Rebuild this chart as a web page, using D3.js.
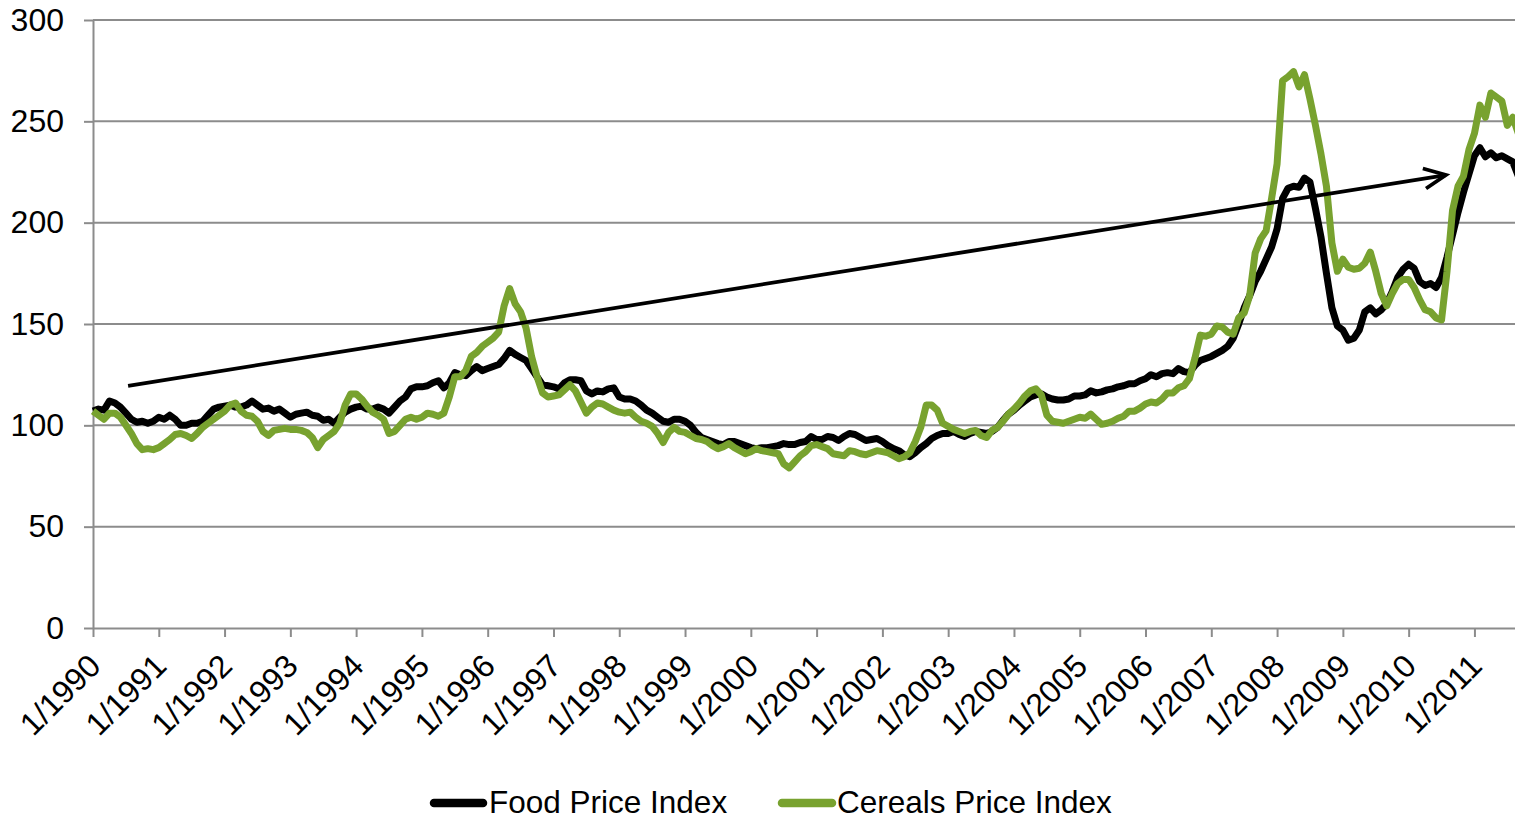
<!DOCTYPE html>
<html>
<head>
<meta charset="utf-8">
<script src="https://cdn.jsdelivr.net/npm/d3@7"></script>
<style>
html,body{margin:0;padding:0;background:#fff;}
svg{display:block;font-family:"Liberation Sans",Arial,Helvetica,sans-serif;}
</style>
</head>
<body>
<svg id="chart" width="1515" height="820"></svg>
<script>
// ---- data (monthly, Jan 1990 .. Sep 2011) ----
const yearLabels = ["1/1990","1/1991","1/1992","1/1993","1/1994","1/1995","1/1996","1/1997","1/1998","1/1999","1/2000","1/2001","1/2002","1/2003","1/2004","1/2005","1/2006","1/2007","1/2008","1/2009","1/2010","1/2011"];
const yTicks = [0,50,100,150,200,250,300];
const seriesNames = ["Food Price Index","Cereals Price Index"];

const foodIndex = [
107,108,107.5,112,111,109,106,103,101.5,102,101,102,
104,103,105,103,100,100,101,101,102,105,108,109,
109.5,110,109,109,110,112,110,108,108.5,107,108,106,
104,105.5,106,106.5,105,104.5,102.5,103,101,104,106.5,108,
109,109.5,108,108,109,108,106,109,112,114,118,119,
119,119.5,121,122,118.5,121,126,125,124.5,127,129,127,
128,129,130,133,137,135,133.5,132,128,124,120,119.5,
119,118,121,122.5,122.5,122,117,115.5,117,116.5,118,118.5,
114,113,113,112,110,107.5,106,104,102,101.5,103,103,
102,100,96.5,94,93,92,91,90.5,92,92,91,90,
89,88.5,89,89,89.5,90,91,90.5,90.5,91.5,92,94.5,
93,93,94.5,94,92.5,94.5,96,95.5,94,92.5,93,93.5,
92,90,88.5,87.5,85.5,84.5,86.5,89,91,93.5,95,96,
96,97,95.5,94.5,96,97,96.5,96,97,99,102.5,105.5,
107.5,110,112,114,115,115.5,114,113,112.5,112.5,113,114.5,
114.5,115,117,116,116.5,117.5,118,119,119.5,120.5,120.5,122,
123,125,124,125.5,126,125.5,128,126.5,126,129.5,132,133,
134,135.5,137,139,143,150,158,164,171,176,182,188,
197,212,217,218,217.5,222,220,207,193,175,158,149,
147,142,143,147,156,158,155,157,160,166,173,177,
179.5,177.5,171,169,170,168,173,183,194,205,215,224,
233,237,232.5,234.5,232,233,231.5,230,223
];

const cerealsIndex = [
107,105,103,106,106,104,100,96,91,88,88.5,88,
89,91,93,95.5,96,95,93.5,96,99,101,103,105,
107,110,111,107,105,104.5,102,97,95,97.5,98,98.5,
98,98,97.5,96.5,94,89,93,95,97,101,110,115.5,
115.5,113,109.5,106.5,105,103,96,97,100,103,104,103,
104,106,105.5,104.5,106,114,124,124,127,134,136,139,
141,143,146,159,167.5,160,156,148,134,124,116,114,
114.5,115,117.5,120,117,111.5,106,109,111,110.5,109,107.5,
106.5,106,106.5,104,102,101,99.5,96,91.5,96.5,99,97,
96.5,95,93.5,93,92,90,88.5,89.5,91,89,87.5,86,
87,88.5,87.5,87,86.5,86,81,79,82,85,87,90,
90.5,89.5,88.5,86,85.5,85,87.5,87,86,85.5,86.5,87.5,
87,86.5,85,83.5,84.5,86.5,92,99,110,110,107.5,101,
99.5,98,97,96,97,97.5,95,94,97.5,99,102,105.5,
108,111,114.5,117,118,115,105,102,101.5,101,102,103,
104,103.5,105.5,103,100.5,101,102,103.5,104.5,107,107,108.5,
110.5,111.5,111,113,116,116,118.5,119.5,123,133,144.5,144,
145,149,148.5,146,145,153,155.5,164,185,192,196,212,
229,270,272,274.5,267,273,261,248,234,218,190,176,
182,178,177,177.5,180,185.5,176,165,159,165,170,172,
172,168,162,157,156,153,152,176,206,218,223,236,
244,258,252,264,262,260,248,252,244
];

// trend arrow: [month index, index value]
const trendStart = [6.4, 119.5];
const trendEnd = [246.8, 223.5];

// ---- drawing ----
(function draw() {
  const plotL = 93, plotR = 1515, plotT = 20, plotB = 628;
  const svg = d3.select("#chart");
  const x = d3.scaleLinear().domain([0, 259.4]).range([plotL, plotR]);
  const y = d3.scaleLinear().domain([0, 300]).range([plotB, plotT]);
  const gridColor = "#8c8c8c";
  const green = "#78A22F";
  const fontSize = 32;

  svg.append("defs").append("clipPath").attr("id", "plotclip")
    .append("rect").attr("x", plotL - 10).attr("y", 0).attr("width", plotR - plotL + 10).attr("height", plotB + 10);

  // gridlines
  svg.append("g").selectAll("line").data(yTicks.filter(d => d > 0)).join("line")
    .attr("x1", plotL).attr("x2", plotR)
    .attr("y1", d => y(d)).attr("y2", d => y(d))
    .attr("stroke", gridColor).attr("stroke-width", 2);

  // y axis
  const gy = svg.append("g").attr("transform", `translate(${plotL},0)`)
    .call(d3.axisLeft(y).tickValues(yTicks).tickSize(9).tickSizeOuter(0).tickPadding(20));
  gy.select(".domain").attr("stroke", gridColor).attr("stroke-width", 2);
  gy.selectAll(".tick line").attr("stroke", gridColor).attr("stroke-width", 2);
  gy.selectAll(".tick text").attr("font-size", fontSize).attr("fill", "#000")
    .attr("font-family", "'Liberation Sans',Arial,sans-serif");

  // x axis
  const tickMonths = yearLabels.map((d, i) => i * 12);
  const gx = svg.append("g").attr("transform", `translate(0,${plotB})`)
    .call(d3.axisBottom(x).tickValues(tickMonths).tickFormat((d, i) => yearLabels[i]).tickSize(9).tickSizeOuter(0));
  gx.select(".domain").attr("stroke", gridColor).attr("stroke-width", 2);
  gx.selectAll(".tick line").attr("stroke", gridColor).attr("stroke-width", 2);
  gx.selectAll(".tick text")
    .attr("font-size", fontSize).attr("fill", "#000")
    .attr("font-family", "'Liberation Sans',Arial,sans-serif")
    .attr("text-anchor", "end")
    .attr("x", 0).attr("y", 0).attr("dy", 0)
    .attr("transform", "translate(9,40) rotate(-45)");

  // series
  const line = d3.line().x((d, i) => x(i)).y(d => y(d));
  const plot = svg.append("g").attr("clip-path", "url(#plotclip)");
  plot.append("path").datum(foodIndex)
    .attr("d", line).attr("fill", "none").attr("stroke", "#000")
    .attr("stroke-width", 7).attr("stroke-linejoin", "round");
  plot.append("path").datum(cerealsIndex)
    .attr("d", line).attr("fill", "none").attr("stroke", green)
    .attr("stroke-width", 7).attr("stroke-linejoin", "round");

  // trend arrow
  const p0 = [x(trendStart[0]), y(trendStart[1])];
  const p1 = [x(trendEnd[0]), y(trendEnd[1])];
  const ang = Math.atan2(p1[1] - p0[1], p1[0] - p0[0]);
  const armLen = 24, armAng = 25 * Math.PI / 180;
  const a1 = [p1[0] - armLen * Math.cos(ang - armAng), p1[1] - armLen * Math.sin(ang - armAng)];
  const a2 = [p1[0] - armLen * Math.cos(ang + armAng), p1[1] - armLen * Math.sin(ang + armAng)];
  svg.append("line").attr("x1", p0[0]).attr("y1", p0[1]).attr("x2", p1[0]).attr("y2", p1[1])
    .attr("stroke", "#000").attr("stroke-width", 3.8);
  svg.append("path").attr("d", `M${a1[0]},${a1[1]}L${p1[0]},${p1[1]}L${a2[0]},${a2[1]}`)
    .attr("fill", "none").attr("stroke", "#000").attr("stroke-width", 3.8)
    .attr("stroke-linejoin", "miter");

  // legend
  const legendItems = [
    {name: seriesNames[0], color: "#000", x0: 434, x1: 483, tx: 489},
    {name: seriesNames[1], color: green, x0: 782, x1: 832, tx: 837}
  ];
  const lg = svg.append("g");
  legendItems.forEach(it => {
    lg.append("line").attr("x1", it.x0).attr("x2", it.x1).attr("y1", 803).attr("y2", 803)
      .attr("stroke", it.color).attr("stroke-width", 8.5).attr("stroke-linecap", "round");
    lg.append("text").attr("x", it.tx).attr("y", 812.5)
      .attr("font-size", 31.5).attr("fill", "#000").text(it.name);
  });
})();
</script>
</body>
</html>
